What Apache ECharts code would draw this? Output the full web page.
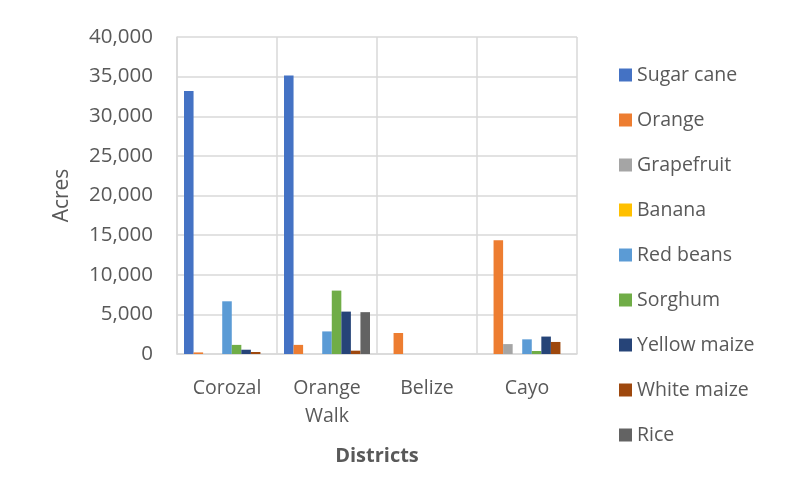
<!DOCTYPE html>
<html><head><meta charset="utf-8">
<script src="https://cdn.jsdelivr.net/npm/echarts@6/dist/echarts.min.js"></script>
<style>html,body{margin:0;padding:0;background:#fff}#c{width:789px;height:499px}</style>
</head><body><div id="c"></div>
<script>
const districts = ['Corozal', 'Orange Walk', 'Belize', 'Cayo'];
const sugarCane   = [33200, 35150, 0, 0];
const orange      = [200, 1150, 2650, 14350];
const grapefruit  = [0, 0, 0, 1250];
const banana      = [0, 0, 0, 0];
const redBeans    = [6650, 2850, 0, 1850];
const sorghum     = [1150, 8000, 0, 380];
const yellowMaize = [540, 5350, 0, 2200];
const whiteMaize  = [250, 420, 0, 1520];
const rice        = [0, 5280, 0, 0];
const yTicks = [0, 5000, 10000, 15000, 20000, 25000, 30000, 35000, 40000];

const seriesDefs = [
  ['Sugar cane', sugarCane, '#4472C4'],
  ['Orange', orange, '#ED7D31'],
  ['Grapefruit', grapefruit, '#A5A5A5'],
  ['Banana', banana, '#FFC000'],
  ['Red beans', redBeans, '#5B9BD5'],
  ['Sorghum', sorghum, '#70AD47'],
  ['Yellow maize', yellowMaize, '#264478'],
  ['White maize', whiteMaize, '#9E480E'],
  ['Rice', rice, '#636363']
];
const font = '"Open Sans", sans-serif';
const chart = echarts.init(document.getElementById('c'));
chart.setOption({
  animation: false,
  color: seriesDefs.map(s => s[2]),
  grid: {left: 177, right: 212, top: 37, bottom: 145},
  legend: {
    orient: 'vertical', left: 614, top: 60, itemGap: 25,
    itemWidth: 13, itemHeight: 13, icon: 'rect',
    textStyle: {fontFamily: font, fontSize: 19.5, color: '#595959'},
    data: seriesDefs.map(s => s[0])
  },
  xAxis: {
    type: 'category', data: districts,
    name: 'Districts', nameLocation: 'middle', nameGap: 92,
    nameTextStyle: {fontFamily: font, fontSize: 20, fontWeight: 'bold', color: '#595959'},
    axisLine: {show: true, lineStyle: {color: '#D9D9D9', width: 1.5}},
    axisTick: {show: false},
    axisLabel: {fontFamily: font, fontSize: 19.5, color: '#595959', margin: 20, lineHeight: 28,
      formatter: v => v.replace(' ', '\n')},
    splitLine: {show: true, lineStyle: {color: '#D9D9D9', width: 1.5}}
  },
  yAxis: {
    type: 'value', min: 0, max: 40000, interval: 5000,
    name: 'Acres', nameLocation: 'middle', nameGap: 104, nameRotate: 90,
    nameTextStyle: {fontFamily: font, fontSize: 21, color: '#595959'},
    axisLine: {show: true, lineStyle: {color: '#D9D9D9', width: 1.5}},
    axisTick: {show: false},
    axisLabel: {fontFamily: font, fontSize: 20.5, color: '#595959', margin: 24,
      formatter: v => yTicks.includes(v) ? v.toLocaleString('en-US') : ''},
    splitLine: {show: true, lineStyle: {color: '#D9D9D9', width: 1.5}}
  },
  series: seriesDefs.map(s => ({
    name: s[0], type: 'bar', data: s[1],
    barGap: '0%', barCategoryGap: '14%'
  }))
});
</script></body></html>
